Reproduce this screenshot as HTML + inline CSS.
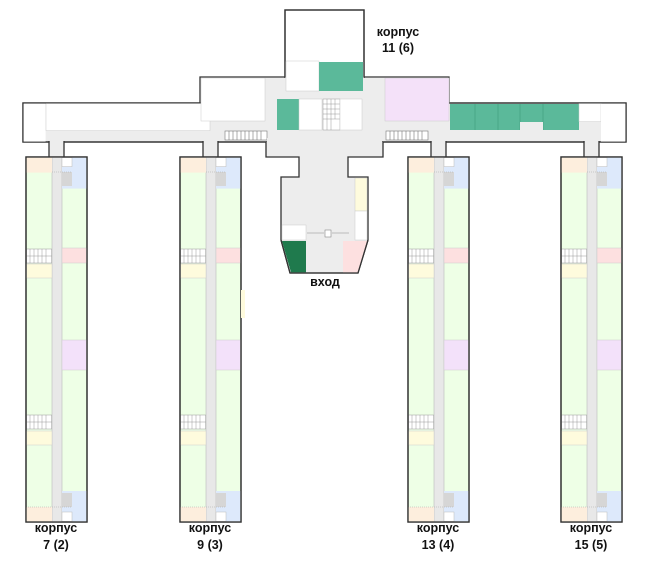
<!DOCTYPE html>
<html><head><meta charset="utf-8"><style>
html,body{margin:0;padding:0;background:#fff;width:650px;height:562px;overflow:hidden}
svg{position:absolute;left:0;top:0}
text{font-family:"Liberation Sans",sans-serif;font-weight:bold;font-size:12.5px;fill:#111}
</style></head><body>
<svg width="650" height="562" viewBox="0 0 650 562">
<defs>
<g id="wing">
  <rect x="23.6" y="-16.5" width="14" height="17" fill="#ededed"/>
  <rect x="0" y="0" width="61" height="365" fill="#eeffe6" stroke="#333" stroke-width="1.3"/>
  <rect x="26" y="0" width="10" height="365" fill="#e8e8e8"/>
  <line x1="26" y1="0" x2="26" y2="365" stroke="#bbb" stroke-width="0.6"/>
  <line x1="36" y1="0" x2="36" y2="365" stroke="#bbb" stroke-width="0.6"/>
  <rect x="0.6" y="0.6" width="25.4" height="15" fill="#fdeedd"/>
  <rect x="36" y="0.6" width="24.4" height="31" fill="#dde9fb"/>
  <rect x="36" y="0.6" width="10" height="9" fill="#fff" stroke="#bbb" stroke-width="0.5"/>
  <rect x="36" y="15" width="10" height="14" fill="#d6d6d6"/>
  <line x1="26" y1="15" x2="46" y2="15" stroke="#aaa" stroke-width="0.5" stroke-dasharray="1,1"/>
  <rect x="36" y="91" width="24.4" height="15" fill="#fde0e0" stroke="#ccc" stroke-width="0.5"/>
  <rect x="0.6" y="92" width="25" height="14" fill="#fff" stroke="#999" stroke-width="0.5"/>
  <path d="M4 92v14M8 92v14M12 92v14M16 92v14M20 92v14M0.6 99h25" stroke="#999" stroke-width="0.5"/>
  <rect x="0.6" y="107" width="25.4" height="14" fill="#fefbdd" stroke="#ccc" stroke-width="0.5"/>
  <rect x="36" y="183" width="24.4" height="30" fill="#f3e1fa" stroke="#ccc" stroke-width="0.5"/>
  <rect x="0.6" y="258" width="25" height="14" fill="#fff" stroke="#999" stroke-width="0.5"/>
  <path d="M4 258v14M8 258v14M12 258v14M16 258v14M20 258v14M0.6 265h25" stroke="#999" stroke-width="0.5"/>
  <rect x="0.6" y="274" width="25.4" height="14" fill="#fefbdd" stroke="#ccc" stroke-width="0.5"/>
  <rect x="36" y="334" width="24.4" height="30.4" fill="#dde9fb"/>
  <rect x="36" y="336" width="10" height="14" fill="#d6d6d6"/>
  <rect x="36" y="355" width="10" height="9.4" fill="#fff" stroke="#bbb" stroke-width="0.5"/>
  <rect x="0.6" y="350" width="25.4" height="14.4" fill="#fdeedd"/>
  <line x1="0" y1="350" x2="46" y2="350" stroke="#aaa" stroke-width="0.5" stroke-dasharray="1,1"/>
  <rect x="0" y="0" width="61" height="365" fill="none" stroke="#333" stroke-width="1.3"/>
  <line x1="23" y1="-16" x2="23" y2="0" stroke="#333" stroke-width="1.3"/>
  <line x1="38" y1="-16" x2="38" y2="0" stroke="#333" stroke-width="1.3"/>
</g>
</defs>
<rect x="285" y="10" width="79" height="82" fill="#fff" stroke="#333" stroke-width="1.3"/>
<rect x="201" y="78" width="248" height="64" fill="#ededed"/>
<rect x="285" y="62" width="79" height="30" fill="#ededed"/>
<rect x="23" y="103" width="603" height="39" fill="#ededed" stroke="#333" stroke-width="1.3"/>
<rect x="201" y="78" width="248" height="27" fill="#ededed"/>
<path d="M200 103V77H285V10H364V77H449V103H626V142H23V103Z" fill="none" stroke="#333" stroke-width="1.3"/>
<rect x="286" y="11" width="77" height="50" fill="#fff"/>
<rect x="286" y="61" width="33" height="30" fill="#fff" stroke="#ccc" stroke-width="0.5"/>
<rect x="319" y="62" width="44" height="29" fill="#5bb99a"/>
<rect x="23.6" y="103.6" width="22" height="38" fill="#fff"/>
<rect x="46" y="103.6" width="164" height="27" fill="#fff" stroke="#ccc" stroke-width="0.5"/>
<rect x="201" y="78" width="64" height="43" fill="#fff" stroke="#ccc" stroke-width="0.5"/>
<rect x="277" y="99" width="22" height="31" fill="#5bb99a"/>
<rect x="299" y="99" width="23" height="31" fill="#fff" stroke="#ccc" stroke-width="0.5"/>
<rect x="323" y="99" width="17" height="31" fill="#fff" stroke="#999" stroke-width="0.5"/>
<path d="M327 99v31M331 99v31M335 99v20M323 104h17M323 109h17M323 114h17M323 119h17" stroke="#999" stroke-width="0.5"/>
<rect x="340" y="99" width="22" height="31" fill="#fff" stroke="#ccc" stroke-width="0.5"/>
<rect x="385" y="78" width="64" height="43" fill="#f4e1f9" stroke="#ccc" stroke-width="0.5"/>
<rect x="450" y="104" width="129" height="26" fill="#5bb99a"/>
<path d="M475 104v26M520 104v26M543 104v26M498 104v26" stroke="#3f9a7c" stroke-width="0.6"/>
<rect x="520" y="122" width="23" height="8" fill="#ededed"/>
<rect x="579" y="103.6" width="22" height="18" fill="#fff" stroke="#ccc" stroke-width="0.5"/>
<rect x="601" y="103.6" width="24.4" height="38" fill="#fff"/>
<rect x="225" y="131" width="42" height="9" fill="#fff" stroke="#777" stroke-width="0.6"/>
<path d="M229 131v9M233 131v9M237 131v9M241 131v9M245 131v9M249 131v9M253 131v9M257 131v9M261 131v9" stroke="#777" stroke-width="0.6"/>
<rect x="386" y="131" width="42" height="9" fill="#fff" stroke="#777" stroke-width="0.6"/>
<path d="M390 131v9M394 131v9M398 131v9M402 131v9M406 131v9M410 131v9M414 131v9M418 131v9M422 131v9" stroke="#777" stroke-width="0.6"/>
<path d="M266 142V157H299V177H281V240L290 273H358L368 240V177H348V157H383V142" fill="#ededed" stroke="#333" stroke-width="1.3"/>
<rect x="267" y="138" width="115" height="8" fill="#ededed"/>
<rect x="282" y="225" width="24" height="15" fill="#fff" stroke="#ccc" stroke-width="0.5"/>
<path d="M282 241H306V272.4H291Z" fill="#1f7a4d"/>
<path d="M343 241H367L358 272.4H343Z" fill="#fde0e0"/>
<rect x="355" y="178" width="12" height="33" fill="#fefbdd" stroke="#ccc" stroke-width="0.5"/>
<rect x="355" y="211" width="12" height="29" fill="#fff" stroke="#ccc" stroke-width="0.5"/>
<rect x="325" y="230" width="6" height="7" fill="#fff" stroke="#888" stroke-width="0.6"/>
<path d="M307 233h17M332 233h17" stroke="#bbb" stroke-width="1"/>
<path d="M281 240L290 273H358L368 240" fill="none" stroke="#333" stroke-width="1.3"/>
<use href="#wing" x="26" y="157"/>
<use href="#wing" x="180" y="157"/>
<use href="#wing" x="408" y="157"/>
<use href="#wing" x="561" y="157"/>
<rect x="241" y="290" width="4" height="28" fill="#fefbdd"/>
<text x="398" y="36" text-anchor="middle">корпус</text>
<text x="398" y="52" text-anchor="middle">11 (6)</text>
<text x="325" y="286" text-anchor="middle">вход</text>
<text x="56" y="532" text-anchor="middle">корпус</text>
<text x="56" y="549" text-anchor="middle">7 (2)</text>
<text x="210" y="532" text-anchor="middle">корпус</text>
<text x="210" y="549" text-anchor="middle">9 (3)</text>
<text x="438" y="532" text-anchor="middle">корпус</text>
<text x="438" y="549" text-anchor="middle">13 (4)</text>
<text x="591" y="532" text-anchor="middle">корпус</text>
<text x="591" y="549" text-anchor="middle">15 (5)</text>
</svg>
</body></html>
